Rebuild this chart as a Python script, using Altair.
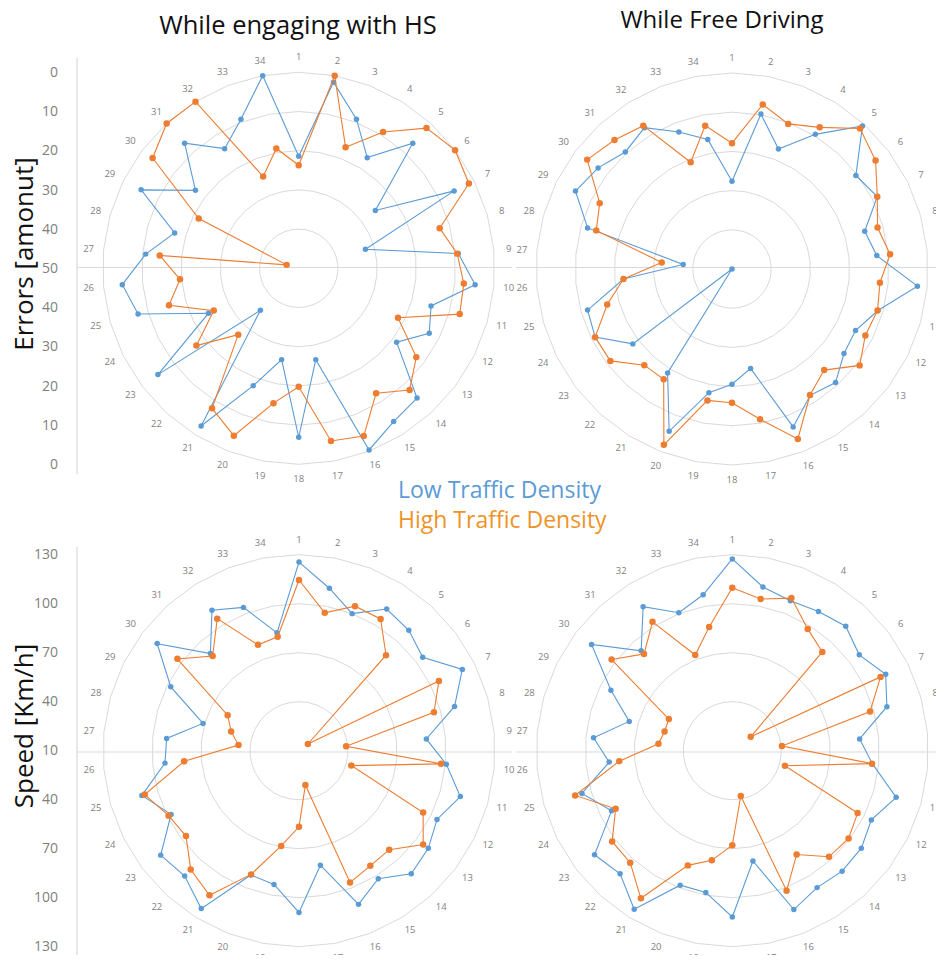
import altair as alt
import pandas as pd

# ---------------- data ----------------
categories = list(range(1, 35))
series_names = ["Low Traffic Density", "High Traffic Density"]
panel_titles = ["While engaging with HS", "While Free Driving"]
axis_titles = ["Errors [amonut]", "Speed [Km/h]"]

# Errors [amount]  (outer ring = 0, centre = 50)
low_err_hs = [21.4, 1.7, 9.2, 16.8, 6.8, 25.5, 5.7, 32.3, 9.1, 4.8, 14.9, 12.8, 18.7, 5.2, 4.0, 0.3, 26.3,
              6.9, 26.3, 17.9, 2.7, 35.5, 5.0, 24.3, 7.4, 4.8, 10.8, 17.1, 5.1, 17.0, 6.8, 14.1, 9.2, 0.0]
high_err_hs = [23.7, 0.0, 16.9, 9.1, 1.6, 0.0, 1.5, 12.6, 9.4, 7.7, 7.3, 21.7, 12.4, 8.0, 12.5, 4.1, 5.2,
               19.8, 15.0, 4.2, 8.0, 27.1, 17.3, 25.8, 15.6, 19.6, 14.4, 46.8, 21.5, 3.3, 0.0, 0.0, 24.9, 18.9]
low_err_fd = [27.6, 9.8, 17.2, 9.6, 0.6, 10.4, 8.6, 14.8, 12.9, 2.5, 11.3, 14.8, 14.2, 10.8, 12.1, 6.8, 24.2,
              20.6, 17.9, 5.6, 18.8, 50.0, 18.3, 11.0, 11.7, 22.2, 37.5, 11.7, 5.4, 7.2, 9.6, 7.6, 12.5, 16.4]
high_err_fd = [17.9, 7.3, 10.3, 7.5, 1.5, 4.1, 8.6, 11.4, 9.5, 12.1, 11.4, 12.0, 9.2, 15.1, 12.2, 3.5, 11.0,
               15.9, 15.9, 1.9, 16.9, 16.8, 11.1, 11.0, 16.9, 22.2, 32.0, 14.0, 12.3, 3.7, 5.5, 7.0, 20.8, 12.8]

# Speed [Km/h]  (centre = 10, outer ring = 130)
low_spd_hs = [125.5, 111.2, 100.0, 112.0, 109.8, 104.9, 121.7, 109.0, 88.3, 100.6, 112.7, 104.4, 109.2, 112.0,
              102.2, 110.9, 81.3, 109.0, 93.3, 91.6, 123.7, 113.9, 116.1, 97.5, 110.0, 92.4, 91.4, 71.1, 97.7,
              118.8, 90.5, 111.2, 104.1, 83.4]
high_spd_hs = [114.5, 95.9, 104.9, 104.9, 89.1, 16.8, 105.7, 95.9, 39.0, 97.3, 43.3, 94.9, 105.3, 92.0, 92.9,
               96.5, 31.3, 56.6, 69.3, 91.2, 114.1, 108.4, 96.7, 99.2, 108.2, 80.6, 47.2, 53.2, 58.8, 103.3,
               88.5, 105.1, 79.5, 81.0]
low_spd_fd = [127.4, 112.0, 108.4, 110.2, 113.1, 107.4, 114.9, 108.4, 88.3, 96.1, 114.3, 105.1, 109.0, 109.8,
              108.6, 114.3, 78.7, 111.8, 98.3, 98.3, 124.1, 112.0, 115.7, 92.6, 105.7, 85.7, 95.3, 75.6, 93.0,
              118.0, 92.8, 113.7, 100.6, 107.1]
high_spd_fd = [109.8, 104.5, 110.2, 97.7, 91.8, 24.1, 111.4, 97.7, 40.5, 95.9, 43.5, 95.7, 99.2, 97.9, 84.8,
               102.0, 38.2, 67.9, 78.3, 85.3, 116.3, 102.8, 102.2, 89.8, 110.0, 79.5, 55.4, 53.1, 53.4, 102.6,
               90.2, 102.8, 72.8, 87.1]

err_ring_values = [40, 30, 20, 10, 0]
spd_ring_values = [40, 70, 100, 130]
err_tick_labels = [0, 10, 20, 30, 40, 50, 40, 30, 20, 10, 0]
spd_tick_labels = [130, 100, 70, 40, 10, 40, 70, 100, 130]

# ---------------- layout / style ----------------
W, H = 928, 947
R = 196          # outer ring radius (px)
LABEL_R = 211    # category label radius (px)
N = len(categories)
BLUE, ORANGE = "#5B9BD5", "#ED7D31"
LEG_BLUE, LEG_ORANGE = "#5B9BD5", "#EE9329"
GRID = "#d9d9d9"
FONT = "Open Sans"

layout = {
    "hs_err": dict(cx=298.7, cy=268.3, v0=50, v1=0),
    "fd_err": dict(cx=732.0, cy=269.0, v0=50, v1=0),
    "hs_spd": dict(cx=299.0, cy=750.7, v0=10, v1=130),
    "fd_spd": dict(cx=732.3, cy=750.7, v0=10, v1=130),
}
series_values = {
    ("hs_err", series_names[0]): low_err_hs, ("hs_err", series_names[1]): high_err_hs,
    ("fd_err", series_names[0]): low_err_fd, ("fd_err", series_names[1]): high_err_fd,
    ("hs_spd", series_names[0]): low_spd_hs, ("hs_spd", series_names[1]): high_spd_hs,
    ("fd_spd", series_names[0]): low_spd_fd, ("fd_spd", series_names[1]): high_spd_fd,
}
rings = {"hs_err": err_ring_values, "fd_err": err_ring_values,
         "hs_spd": spd_ring_values, "fd_spd": spd_ring_values}

# ---------------- tables ----------------
rows = []
for (p, s), vals in series_values.items():
    for i in range(N + 1):
        rows.append(dict(panel=p, series=s, k=categories[i % N], ord=i, value=vals[i % N], **layout[p]))
series_df = pd.DataFrame(rows)

ring_rows = []
for p, levels in rings.items():
    for lv in levels:
        for i in range(N + 1):
            ring_rows.append(dict(panel=p, level=lv, k=categories[i % N], ord=i, value=lv, **layout[p]))
ring_df = pd.DataFrame(ring_rows)

lab_rows = []
for p in layout:
    for c in categories:
        lab_rows.append(dict(panel=p, k=c, label=str(c), cx=layout[p]["cx"], cy=layout[p]["cy"]))
lab_df = pd.DataFrame(lab_rows)

tick_rows = []
for labels, v0, v1, acy in [(err_tick_labels, 50, 0, 269.0), (spd_tick_labels, 10, 130, 751.0)]:
    mid = len(labels) // 2
    for i, v in enumerate(labels):
        side = -1 if i < mid else (0 if i == mid else 1)
        tick_rows.append(dict(label=str(v), value=v, v0=v0, v1=v1, acy=acy, side=side))
tick_df = pd.DataFrame(tick_rows)

lines_df = pd.DataFrame([
    dict(x1=77, x2=77, y1=58, y2=474),
    dict(x1=77, x2=77, y1=547, y2=955),
    dict(x1=77, x2=512, y1=267.5, y2=267.5),
    dict(x1=516, x2=936, y1=267.5, y2=267.5),
    dict(x1=77, x2=512, y1=752, y2=752),
    dict(x1=516, x2=936, y1=752, y2=752),
])

title_df = pd.DataFrame([
    dict(text=panel_titles[0], px=298, py=26, fs=25.5),
    dict(text=panel_titles[1], px=722, py=21, fs=24),
])
axis_title_df = pd.DataFrame([
    dict(text=axis_titles[0], px=25, py=254),
    dict(text=axis_titles[1], px=25, py=726),
])
legend_df = pd.DataFrame([
    dict(text=series_names[0], px=398, py=491, series=series_names[0]),
    dict(text=series_names[1], px=398, py=521, series=series_names[1]),
])

# ---------------- encodings ----------------
def X(field="px"):
    return alt.X(f"{field}:Q", scale=alt.Scale(domain=[8, 8 + W], nice=False, zero=False), axis=None)


def Y(field="py"):
    return alt.Y(f"{field}:Q", scale=alt.Scale(domain=[8, 8 + H], nice=False, zero=False, reverse=True),
                 axis=None)


def polar(chart, rexpr):
    return (chart
            .transform_calculate(r=rexpr)
            .transform_calculate(ang=f"(datum.k-1)*2*PI/{N}")
            .transform_calculate(px="datum.cx + datum.r*sin(datum.ang)")
            .transform_calculate(py="datum.cy - datum.r*cos(datum.ang)"))


value_r = f"{R}*(datum.value-datum.v0)/(datum.v1-datum.v0)"

ring_layer = polar(alt.Chart(ring_df), value_r).mark_line(
    color=GRID, strokeWidth=1).encode(
    x=X(), y=Y(), detail=[alt.Detail("panel:N"), alt.Detail("level:Q")], order=alt.Order("ord:Q"))

rule_layer = alt.Chart(lines_df).mark_rule(color=GRID, strokeWidth=1.2).encode(
    x=X("x1"), x2="x2:Q", y=Y("y1"), y2="y2:Q")

cat_label_layer = polar(alt.Chart(lab_df), f"{LABEL_R}").mark_text(
    font=FONT, fontSize=9.5, color="#7f7f7f", align="center", baseline="middle").encode(
    x=X(), y=Y(), text="label:N")

tick_layer = alt.Chart(tick_df).transform_calculate(
    px="58",
    py=f"datum.acy + datum.side*{R}*(datum.value-datum.v0)/(datum.v1-datum.v0)",
).mark_text(font=FONT, fontSize=14, color="#808080", align="right", baseline="middle").encode(
    x=X(), y=Y(), text="label:N")

layers = [ring_layer, rule_layer, cat_label_layer, tick_layer]

for s, col, size in [(series_names[0], BLUE, 30), (series_names[1], ORANGE, 42)]:
    base = polar(alt.Chart(series_df).transform_filter(alt.datum.series == s), value_r)
    layers.append(base.mark_line(color=col, strokeWidth=1.1).encode(
        x=X(), y=Y(), detail="panel:N", order=alt.Order("ord:Q")))
    layers.append(base.transform_filter(f"datum.ord < {N}").mark_circle(
        color=col, opacity=1, size=size).encode(x=X(), y=Y()))

title_layer = alt.Chart(title_df).mark_text(
    font=FONT, color="#111111", align="center", baseline="middle").encode(
    x=X(), y=Y(), text="text:N", size=alt.Size("fs:Q", scale=None))
axis_title_layer = alt.Chart(axis_title_df).mark_text(
    font=FONT, fontSize=26, color="#111111", align="center", baseline="middle", angle=270).encode(
    x=X(), y=Y(), text="text:N")
legend_layer = alt.Chart(legend_df).mark_text(
    font=FONT, fontSize=23, align="left", baseline="middle").encode(
    x=X(), y=Y(), text="text:N",
    color=alt.Color("series:N", scale=alt.Scale(domain=series_names, range=[LEG_BLUE, LEG_ORANGE]),
                    legend=None))

layers += [title_layer, axis_title_layer, legend_layer]

chart = alt.layer(*layers).properties(
    width=W, height=H, padding=0, autosize=alt.AutoSizeParams(type="none"),
    background="white",
).configure_view(strokeWidth=0)

chart.save("out.html", embed_options={"renderer": "svg", "actions": False})
